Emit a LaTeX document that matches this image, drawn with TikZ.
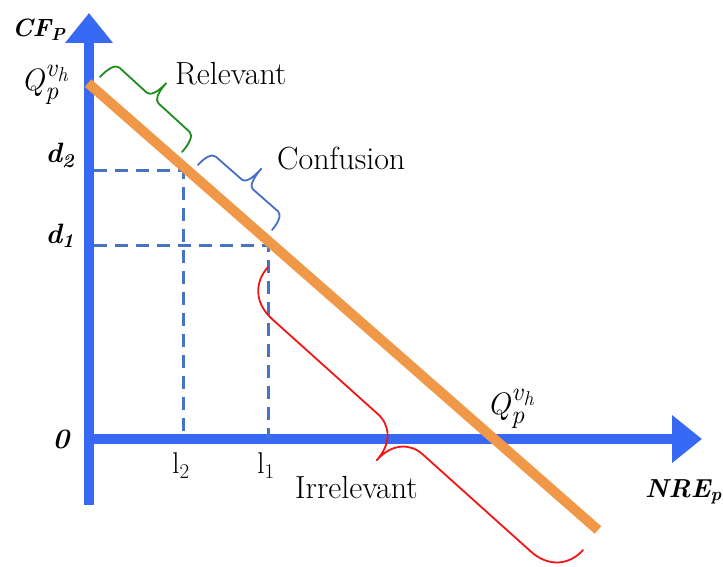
\documentclass[tikz,border=0pt]{standalone}
\usepackage{fontspec}
\usetikzlibrary{arrows.meta,calc}
\definecolor{axisblue}{RGB}{55,105,245}
\definecolor{dashblue}{RGB}{70,115,195}
\definecolor{linorange}{RGB}{240,152,72}
\definecolor{brgreen}{RGB}{30,140,30}
\definecolor{brblue}{RGB}{70,110,200}
\definecolor{brred}{RGB}{245,20,20}
% #1 style, #2 length, #3 arm offset, #4 tip offset, #5 tip position, #6 curl length, #7 tip half-length
\newcommand\bracedraw[7]{%
  \draw[#1] (0,0) .. controls (0,{0.55*#3}) and ({0.35*#6},{#3}) .. ({#6},{#3})
   -- ({#5-#7},{#3}) .. controls ({#5-0.45*#7},{#3}) and ({#5},{#3+0.35*(#4-#3)}) .. ({#5},{#4})
   .. controls ({#5},{#3+0.35*(#4-#3)}) and ({#5+0.45*#7},{#3}) .. ({#5+#7},{#3})
   -- ({#2-#6},{#3}) .. controls ({#2-0.35*#6},{#3}) and ({#2},{0.55*#3}) .. ({#2},0);}
\newcommand\qvh{{\fontsize{31}{32}\selectfont\itshape Q}\hspace{1pt}\rlap{\raisebox{-9pt}{\fontsize{26}{28}\selectfont\itshape p}}\raisebox{14pt}{\fontsize{26}{28}\selectfont\itshape v\hspace{0.5pt}\raisebox{-5pt}{\fontsize{20}{20}\selectfont\itshape h}}}
\tikzset{
  axisline/.style={draw=axisblue, line width=10pt, -{Triangle[length=30pt,width=46pt]}},
  guide/.style={draw=dashblue, line width=3pt, dash pattern=on 13pt off 8pt},
  demand/.style={draw=linorange, line width=10pt},
  bracestyle/.style={line width=1.8pt, line join=round, line cap=round},
  lbl/.style={inner sep=0pt, font=\fontsize{32}{36}\selectfont},
  axlbl/.style={inner sep=0pt, font=\fontsize{28}{32}\selectfont\bfseries\itshape},
  qlbl/.style={inner sep=0pt},
}
\begin{document}
\begin{tikzpicture}[x=1pt,y=1pt]
\useasboundingbox[fill=white] (0,0) rectangle (723,-567);
% axes
\coordinate (ybot) at (89,-505);
\coordinate (ytop) at (89,-13);
\coordinate (xleft) at (84,-439);
\coordinate (xright) at (702,-439);
\path[axisline] (ybot) -- (ytop);
\path[axisline] (xleft) -- (xright);
% guides
\coordinate (d2a) at (94,-171);
\coordinate (d2b) at (183,-171);
\coordinate (l2a) at (183,-439);
\coordinate (d1a) at (94,-245);
\coordinate (d1b) at (268,-245);
\coordinate (l1a) at (268,-439);
\path[guide] (d2a) -- (d2b) -- (l2a);
\path[guide] (d1a) -- (d1b) -- (l1a);
% demand line
\coordinate (qtop) at (88,-83);
\coordinate (qbot) at (598,-530);
\path[demand] (qtop) -- (qbot);
% braces
\begin{scope}[shift={(100,-77)}, rotate={atan2(-75,82)}]
  \bracedraw{bracestyle, draw=brgreen}{111.1}{20}{40}{53}{8}{8}
\end{scope}
\begin{scope}[shift={(198,-165)}, rotate={atan2(-65,74)}]
  \bracedraw{bracestyle, draw=brblue}{98.5}{18}{39}{50}{8}{7}
\end{scope}
\begin{scope}[shift={(268,-267)}, rotate={atan2(-283,315)}, yscale=-1]
  \bracedraw{bracestyle, draw=brred}{423.5}{36}{71}{210}{38}{30}
\end{scope}
% labels
\node[axlbl, font=\fontsize{25}{30}\selectfont\bfseries\itshape, anchor=base west] (cf) at (12,-37) {CF\textsubscript{P}};
\node[axlbl, font=\fontsize{26}{30}\selectfont\bfseries\itshape, anchor=base west] (nre) at (645,-497) {NRE\textsubscript{p}};
\node[axlbl, anchor=base] (zero) at (61,-448) {0};
\node[axlbl, anchor=base] (d2) at (60,-163) {d\textsubscript{2}};
\node[axlbl, anchor=base] (d1) at (60,-243) {d\textsubscript{1}};
\node[qlbl, anchor=base west] (q1) at (21,-91) {\qvh};
\node[qlbl, anchor=base west] (q2) at (487,-414) {\qvh};
\node[lbl, anchor=base west] (rel) at (175,-85) {Relevant};
\node[lbl, anchor=base west] (conf) at (277,-170) {Confusion};
\node[lbl, anchor=base west] (irr) at (295,-498) {Irrelevant};
\node[lbl, font=\fontsize{30}{34}\selectfont, anchor=base] (l2) at (181,-473) {l\textsubscript{2}};
\node[lbl, font=\fontsize{30}{34}\selectfont, anchor=base] (l1) at (266,-473) {l\textsubscript{1}};
\end{tikzpicture}
\end{document}
